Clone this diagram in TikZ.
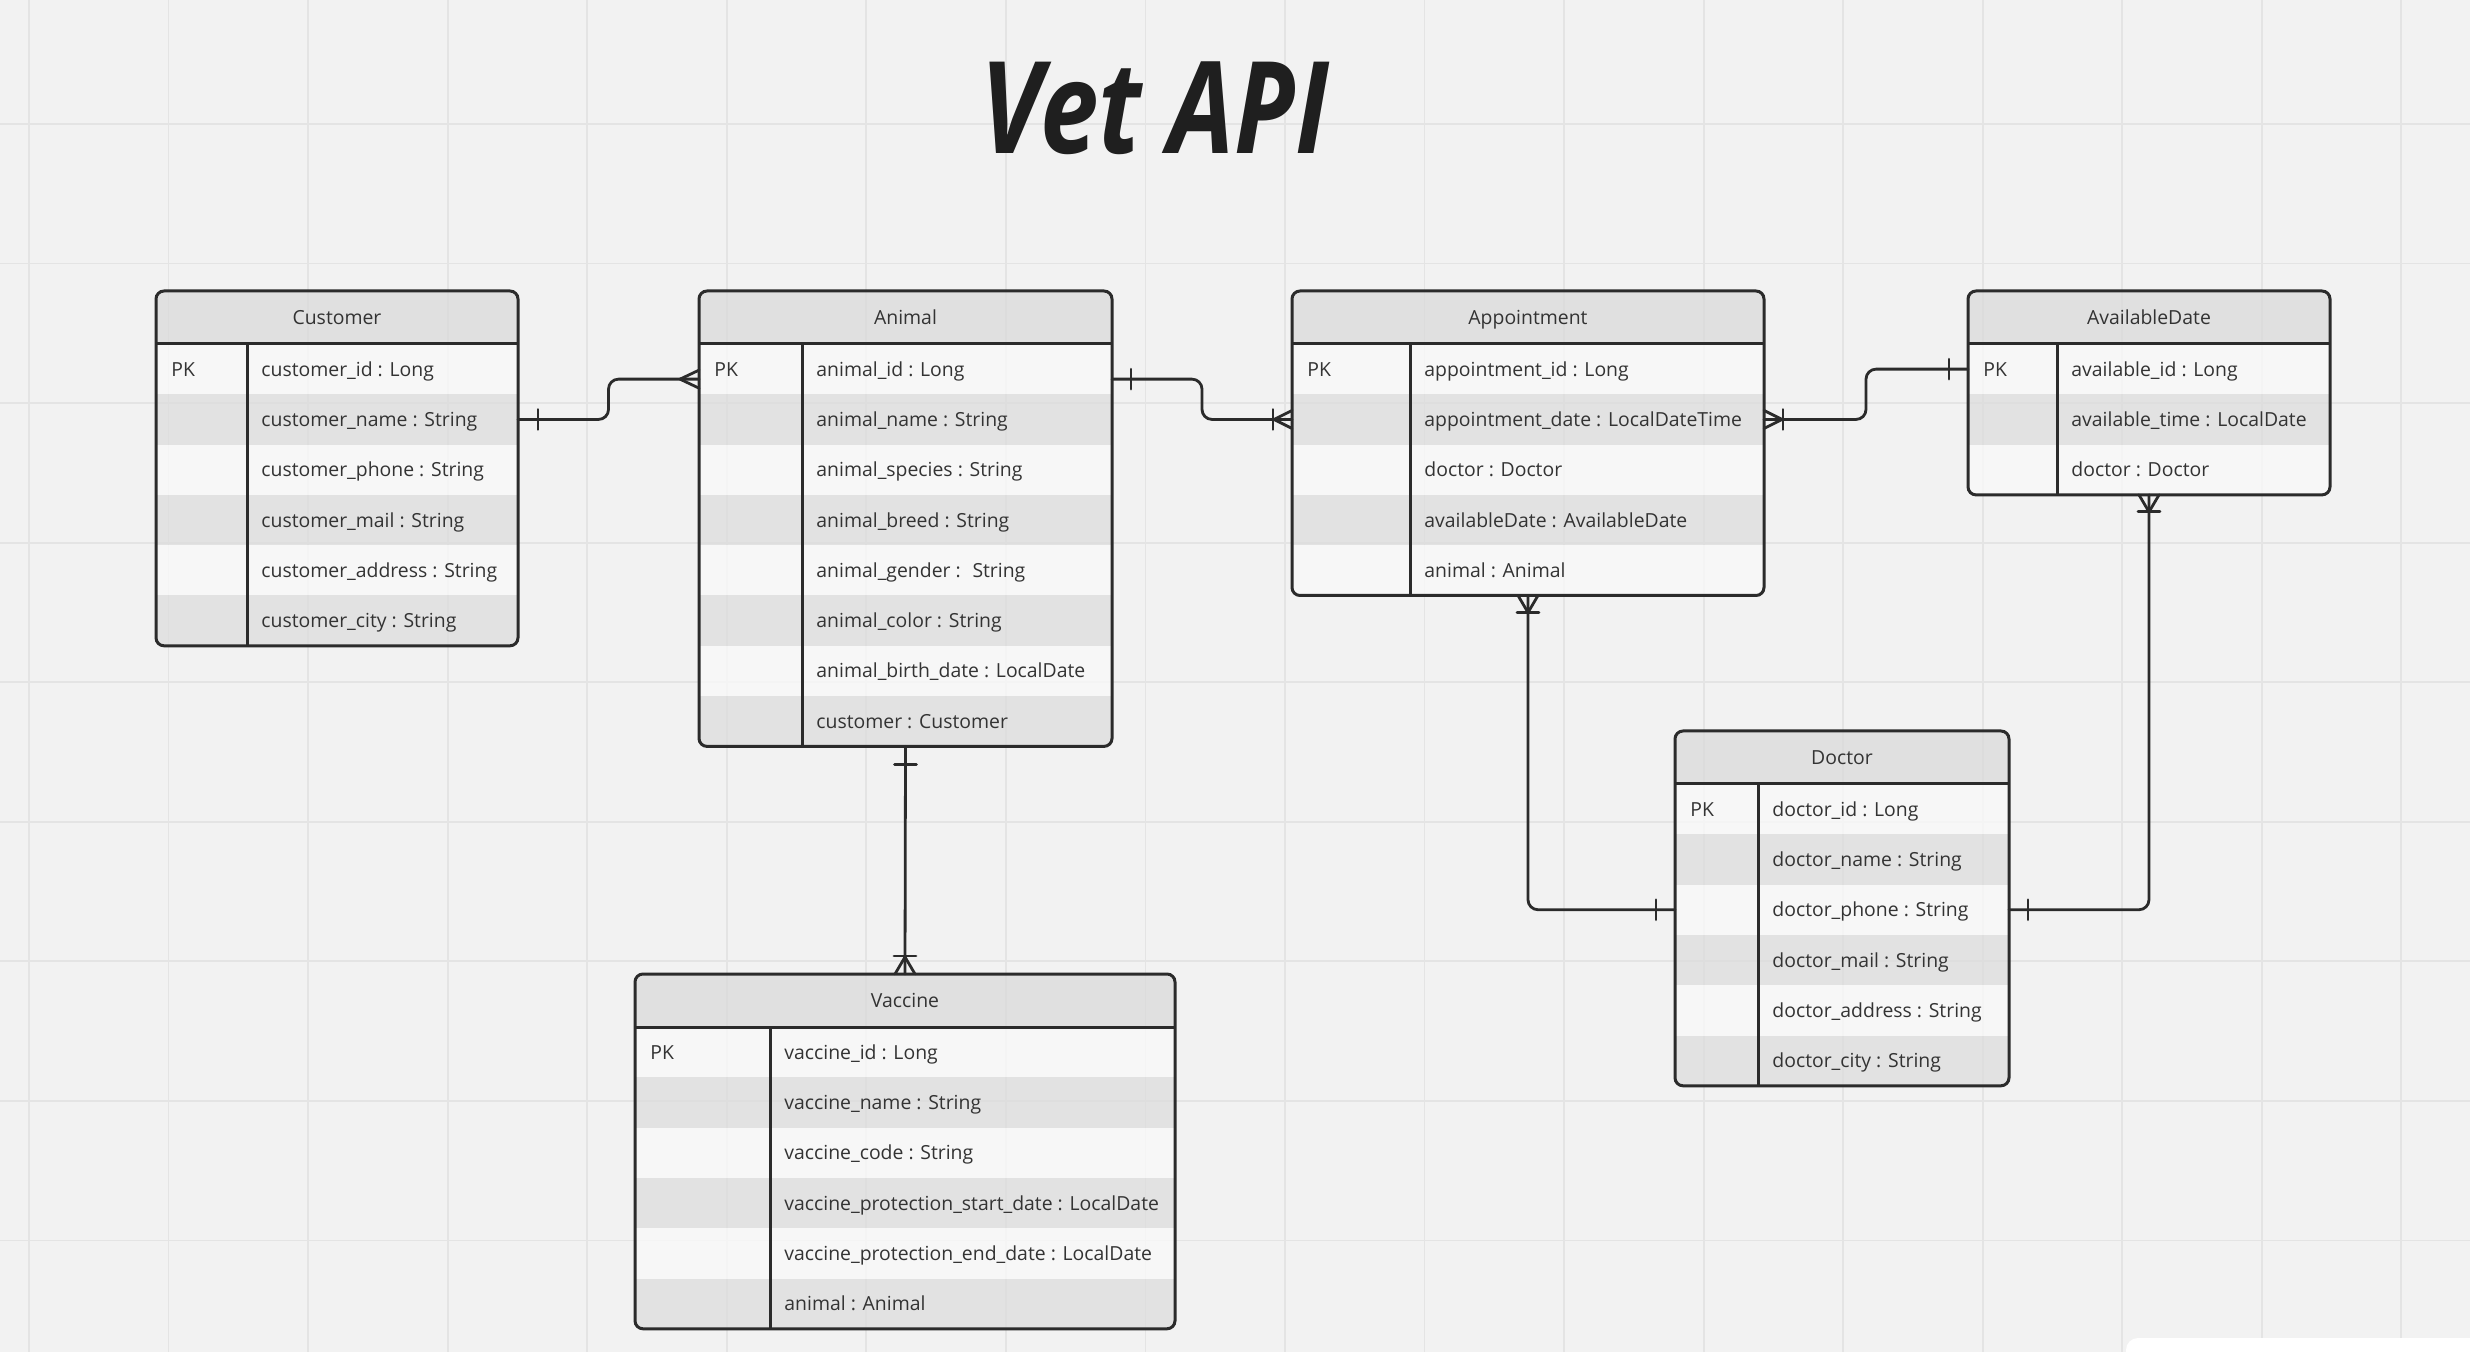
\documentclass[tikz,border=0pt]{standalone}
\usepackage{fontspec}
\setmainfont{Open Sans}
\usetikzlibrary{calc}

\definecolor{bg}{HTML}{F2F2F2}
\definecolor{gridline}{HTML}{E4E4E4}
\definecolor{rowlight}{HTML}{FAFAFA}
\definecolor{rowdark}{HTML}{DDDDDD}
\definecolor{headfill}{HTML}{DADADA}
\definecolor{ink}{HTML}{2B2B2B}
\definecolor{txt}{HTML}{333333}

\tikzset{
  tableline/.style={ink, line width=1.5pt},
  conn/.style={ink, line width=1.4pt, line cap=round, line join=round},
  elbow/.style={conn, rounded corners=5pt},
  keytext/.style={anchor=base west, inner sep=0pt, text=txt,
    font=\fontsize{9.7}{12}\selectfont},
  attrtext/.style={keytext},
  headtext/.style={keytext, anchor=base},
}

% one ER table: name, left, right, divider, top, title, rows
\newcommand{\ertable}[7]{%
  \foreach \k/\v [count=\n] in {#7} {\xdef\nrows{\n}}
  \pgfmathsetmacro{\headb}{#5+53}
  \pgfmathsetmacro{\tbot}{\headb+50.3*\nrows}
  \begin{scope}[fill opacity=0.75]
    \clip[rounded corners=4pt] (#2,#5) rectangle (#3,\tbot);
    \fill[headfill] (#2,#5) rectangle (#3,\headb);
    \foreach \k/\v [count=\i] in {#7} {
      \pgfmathsetmacro{\ya}{\headb+(\i-1)*50.3}
      \ifodd\i \def\rowcol{rowlight}\else\def\rowcol{rowdark}\fi
      \fill[\rowcol] (#2,\ya) rectangle (#3,\ya+50.3);
    }
  \end{scope}
  \foreach \k/\v [count=\i] in {#7} {
    \pgfmathsetmacro{\ym}{\headb+(\i-1)*50.3+25.15}
    \node[keytext] at (#2+15,\ym+7) {\k};
    \node[attrtext] at (#4+14,\ym+7) {\v};
    \coordinate (#1-\i-l) at (#2,\ym);
    \coordinate (#1-\i-r) at (#3,\ym);
  }
  \draw[tableline, rounded corners=4pt] (#2,#5) rectangle (#3,\tbot);
  \draw[tableline] (#2,\headb) -- (#3,\headb);
  \draw[tableline] (#4,\headb) -- (#4,\tbot);
  \node[headtext] (#1) at ({(#2+#3)/2},{#5+33.5}) {#6};
  \coordinate (#1-n) at ({(#2+#3)/2},#5);
  \coordinate (#1-s) at ({(#2+#3)/2},\tbot);
}

\begin{document}
\begin{tikzpicture}[x=0.5pt, y=-0.5pt]
    \useasboundingbox (0,0) rectangle (2470,1352);
    \clip (0,0) rectangle (2470,1352);
    \fill[bg] (0,0) rectangle (2470,1352);

    % board grid
    \foreach \k in {0,...,17}
        \draw[gridline, line width=0.9pt] (29+139.55*\k,0) -- (29+139.55*\k,1352);
    \foreach \k in {0,...,8}
        \draw[gridline, line width=0.9pt] (0,124+139.55*\k) -- (2470,124+139.55*\k);

    \node[text=black!88, font=\fontsize{64}{70}\selectfont\bfseries\itshape] (title) at (1155,108)
        {\scalebox{0.82}[1]{Vet API}};

    % Tables
    \ertable{cust}{156}{518}{247}{291}{Customer}{PK/customer\_id : Long, /customer\_name : String,
        /customer\_phone : String, /customer\_mail : String, /customer\_address : String,
        /customer\_city : String}
    \ertable{ani}{699}{1112}{802}{291}{Animal}{PK/animal\_id : Long, /animal\_name : String,
        /animal\_species : String, /animal\_breed : String, /animal\_gender :~ String,
        /animal\_color : String, /animal\_birth\_date : LocalDate, /customer : Customer}
    \ertable{appt}{1292}{1764}{1410}{291}{Appointment}{PK/appointment\_id : Long,
        /appointment\_date : LocalDateTime, /doctor : Doctor, /availableDate : AvailableDate,
        /animal : Animal}
    \ertable{avail}{1968}{2330}{2057}{291}{AvailableDate}{PK/available\_id : Long,
        /available\_time : LocalDate, /doctor : Doctor}
    \ertable{doc}{1675}{2009}{1758}{731}{Doctor}{PK/doctor\_id : Long, /doctor\_name : String,
        /doctor\_phone : String, /doctor\_mail : String, /doctor\_address : String,
        /doctor\_city : String}
    \ertable{vac}{635}{1175}{770}{974}{Vaccine}{PK/vaccine\_id : Long, /vaccine\_name : String,
        /vaccine\_code : String, /vaccine\_protection\_start\_date : LocalDate,
        /vaccine\_protection\_end\_date : LocalDate, /animal : Animal}

    \coordinate (ani-a-l) at ($(ani-1-l)+(0,10)$);
    \coordinate (ani-a-r) at ($(ani-1-r)+(0,10)$);
    \coordinate (mid1) at ($(cust-2-r)!.5!(ani-a-l)$);
    \coordinate (mid2) at ($(ani-a-r)!.5!(appt-2-l)$);
    \coordinate (mid3) at ($(appt-2-r)!.5!(avail-1-l)$);

    % Customer 1 -- n Animal
    \draw[elbow] (cust-2-r) -- (cust-2-r -| mid1) -- (mid1 |- ani-a-l) -- (ani-a-l);
    \draw[conn] ($(cust-2-r)+(20,-10)$) -- ++(0,20);
    \draw[conn] ($(ani-a-l)+(0,-9)$) -- ++(-19,9) -- ++(19,9);

    % Animal 1 -- n Appointment
    \draw[elbow] (ani-a-r) -- (ani-a-r -| mid2) -- (mid2 |- appt-2-l) -- (appt-2-l);
    \draw[conn] ($(ani-a-r)+(19,-10)$) -- ++(0,20);
    \draw[conn] ($(appt-2-l)+(0,-9)$) -- ++(-18,9) -- ++(18,9);
    \draw[conn] ($(appt-2-l)+(-19,-10)$) -- ++(0,20);

    % Appointment n -- 1 AvailableDate
    \draw[elbow] (appt-2-r) -- (appt-2-r -| mid3) -- (mid3 |- avail-1-l) -- (avail-1-l);
    \draw[conn] ($(appt-2-r)+(0,-9)$) -- ++(18,9) -- ++(-18,9);
    \draw[conn] ($(appt-2-r)+(19,-10)$) -- ++(0,20);
    \draw[conn] ($(avail-1-l)+(-19,-10)$) -- ++(0,20);

    % Appointment n -- 1 Doctor
    \draw[elbow] (appt-s) |- (doc-3-l);
    \draw[conn] ($(appt-s)+(-10,0)$) -- ++(10,17) -- ++(10,-17);
    \draw[conn] ($(appt-s)+(-11,17)$) -- ++(22,0);
    \draw[conn] ($(doc-3-l)+(-19,-10)$) -- ++(0,20);

    % AvailableDate n -- 1 Doctor
    \draw[elbow] (avail-s) |- (doc-3-r);
    \draw[conn] ($(avail-s)+(-10,0)$) -- ++(10,17) -- ++(10,-17);
    \draw[conn] ($(avail-s)+(-11,17)$) -- ++(22,0);
    \draw[conn] ($(doc-3-r)+(19,-10)$) -- ++(0,20);

    % Animal 1 -- n Vaccine
    \draw[conn] (ani-s) -- (vac-n);
    \draw[conn] ($(ani-s)+(-11,18)$) -- ++(22,0);
    \draw[conn] ($(vac-n)+(-10,0)$) -- ++(10,-17) -- ++(10,17);
    \draw[conn] ($(vac-n)+(-11,-18)$) -- ++(22,0);

    % board panel
    \fill[white, rounded corners=6pt] (2126,1338) rectangle (2520,1400);
\end{tikzpicture}
\end{document}
